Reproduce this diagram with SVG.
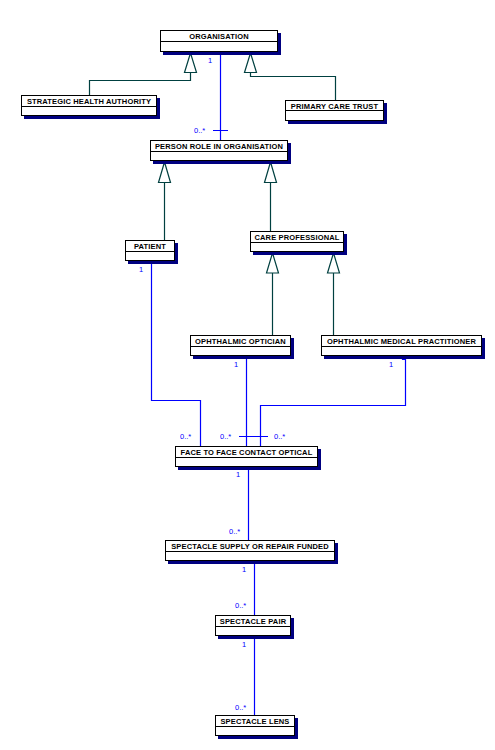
<svg xmlns="http://www.w3.org/2000/svg" width="495" height="750" viewBox="0 0 495 750">
<style>
.sh{fill:#000080}
.bx{fill:#fff;stroke:#000;stroke-width:1}
.dv{stroke:#000;stroke-width:1}
.nm{font-family:"Liberation Sans",Arial,sans-serif;font-size:7.5px;font-weight:bold;letter-spacing:0.15px;fill:#000;text-anchor:middle}
.gen{fill:none;stroke:#004040;stroke-width:1.2}
.tri{fill:#fff;stroke:#004040;stroke-width:1.2}
.as{fill:none;stroke:#0000ff;stroke-width:1.2}
.ml{font-family:"Liberation Sans",Arial,sans-serif;font-size:7.5px;fill:#0000ff}
</style>
<rect width="495" height="750" fill="#fff"/>
<g id="connectors">
<path class="gen" d="M89.5,95 V80.5 H190.5 V72.5"/>
<path class="tri" d="M190.5,53 L184.5,72.5 H196.5 Z"/>
<path class="gen" d="M335.5,100 V76.5 H250.5 V72.5"/>
<path class="tri" d="M250.5,53 L244.5,72.5 H256.5 Z"/>
<path class="gen" d="M164.5,240 V182.5"/>
<path class="tri" d="M164.5,162 L158.5,182.5 H170.5 Z"/>
<path class="gen" d="M270.5,231 V182.5"/>
<path class="tri" d="M270.5,162 L264.5,182.5 H276.5 Z"/>
<path class="gen" d="M272.5,335 V273"/>
<path class="tri" d="M272.5,253 L266.5,273 H278.5 Z"/>
<path class="gen" d="M333.5,335 V273"/>
<path class="tri" d="M333.5,253 L327.5,273 H339.5 Z"/>
<path class="as" d="M220.5,52 V140 M213,130.5 H228"/>
<text class="ml" x="208" y="63">1</text>
<text class="ml" x="194" y="133">0..*</text>
<path class="as" d="M151.5,262 V400.5 H200.5 V446"/>
<text class="ml" x="139" y="272">1</text>
<text class="ml" x="180" y="439">0..*</text>
<path class="as" d="M246.5,356 V446"/>
<text class="ml" x="234" y="367">1</text>
<text class="ml" x="220" y="439">0..*</text>
<path class="as" d="M402.5,356 V359.5 H405.5 V405.5 H260.5 V446 M239,436.5 H268"/>
<text class="ml" x="389" y="367">1</text>
<text class="ml" x="274" y="439">0..*</text>
<path class="as" d="M248.5,467 V540"/>
<text class="ml" x="236" y="477">1</text>
<text class="ml" x="229" y="534">0..*</text>
<path class="as" d="M254.5,561 V615"/>
<text class="ml" x="242" y="572">1</text>
<text class="ml" x="235" y="608">0..*</text>
<path class="as" d="M254.5,636 V715"/>
<text class="ml" x="242" y="647">1</text>
<text class="ml" x="235" y="710">0..*</text>
</g>
<g id="organisation">
<rect class="sh" x="163" y="33" width="118" height="22"/>
<rect class="bx" x="160.5" y="30.5" width="117" height="21"/>
<line class="dv" x1="160.5" y1="41.5" x2="277.5" y2="41.5"/>
<text class="nm" x="219" y="39">ORGANISATION</text>
</g>
<g id="sha">
<rect class="sh" x="24" y="98" width="136" height="21"/>
<rect class="bx" x="21.5" y="95.5" width="135" height="20"/>
<line class="dv" x1="21.5" y1="106.5" x2="156.5" y2="106.5"/>
<text class="nm" x="89" y="104">STRATEGIC HEALTH AUTHORITY</text>
</g>
<g id="pct">
<rect class="sh" x="288" y="103" width="99" height="21"/>
<rect class="bx" x="285.5" y="100.5" width="98" height="20"/>
<line class="dv" x1="285.5" y1="110.5" x2="383.5" y2="110.5"/>
<text class="nm" x="334.5" y="109">PRIMARY CARE TRUST</text>
</g>
<g id="prio">
<rect class="sh" x="153" y="143" width="138" height="21"/>
<rect class="bx" x="150.5" y="140.5" width="137" height="20"/>
<line class="dv" x1="150.5" y1="151.5" x2="287.5" y2="151.5"/>
<text class="nm" x="219" y="149">PERSON ROLE IN ORGANISATION</text>
</g>
<g id="patient">
<rect class="sh" x="128" y="243" width="50" height="21"/>
<rect class="bx" x="125.5" y="240.5" width="49" height="20"/>
<line class="dv" x1="125.5" y1="251.5" x2="174.5" y2="251.5"/>
<text class="nm" x="150" y="249">PATIENT</text>
</g>
<g id="careprof">
<rect class="sh" x="253" y="234" width="94" height="21"/>
<rect class="bx" x="250.5" y="231.5" width="93" height="20"/>
<line class="dv" x1="250.5" y1="242.5" x2="343.5" y2="242.5"/>
<text class="nm" x="297" y="240">CARE PROFESSIONAL</text>
</g>
<g id="oo">
<rect class="sh" x="193" y="338" width="101" height="21"/>
<rect class="bx" x="190.5" y="335.5" width="100" height="20"/>
<line class="dv" x1="190.5" y1="346.5" x2="290.5" y2="346.5"/>
<text class="nm" x="240.5" y="344">OPHTHALMIC OPTICIAN</text>
</g>
<g id="omp">
<rect class="sh" x="324" y="338" width="161" height="21"/>
<rect class="bx" x="321.5" y="335.5" width="160" height="20"/>
<line class="dv" x1="321.5" y1="346.5" x2="481.5" y2="346.5"/>
<text class="nm" x="401.5" y="344">OPHTHALMIC MEDICAL PRACTITIONER</text>
</g>
<g id="ftf">
<rect class="sh" x="178" y="449" width="143" height="21"/>
<rect class="bx" x="175.5" y="446.5" width="142" height="20"/>
<line class="dv" x1="175.5" y1="457.5" x2="317.5" y2="457.5"/>
<text class="nm" x="246.5" y="455">FACE TO FACE CONTACT OPTICAL</text>
</g>
<g id="ssorf">
<rect class="sh" x="168" y="543" width="170" height="21"/>
<rect class="bx" x="165.5" y="540.5" width="169" height="20"/>
<line class="dv" x1="165.5" y1="551.5" x2="334.5" y2="551.5"/>
<text class="nm" x="250" y="549">SPECTACLE SUPPLY OR REPAIR FUNDED</text>
</g>
<g id="sp">
<rect class="sh" x="218" y="618" width="76" height="21"/>
<rect class="bx" x="215.5" y="615.5" width="75" height="20"/>
<line class="dv" x1="215.5" y1="626.5" x2="290.5" y2="626.5"/>
<text class="nm" x="253" y="624">SPECTACLE PAIR</text>
</g>
<g id="sl">
<rect class="sh" x="218" y="718" width="80" height="21"/>
<rect class="bx" x="215.5" y="715.5" width="79" height="20"/>
<line class="dv" x1="215.5" y1="726.5" x2="294.5" y2="726.5"/>
<text class="nm" x="255" y="724">SPECTACLE LENS</text>
</g>
</svg>
